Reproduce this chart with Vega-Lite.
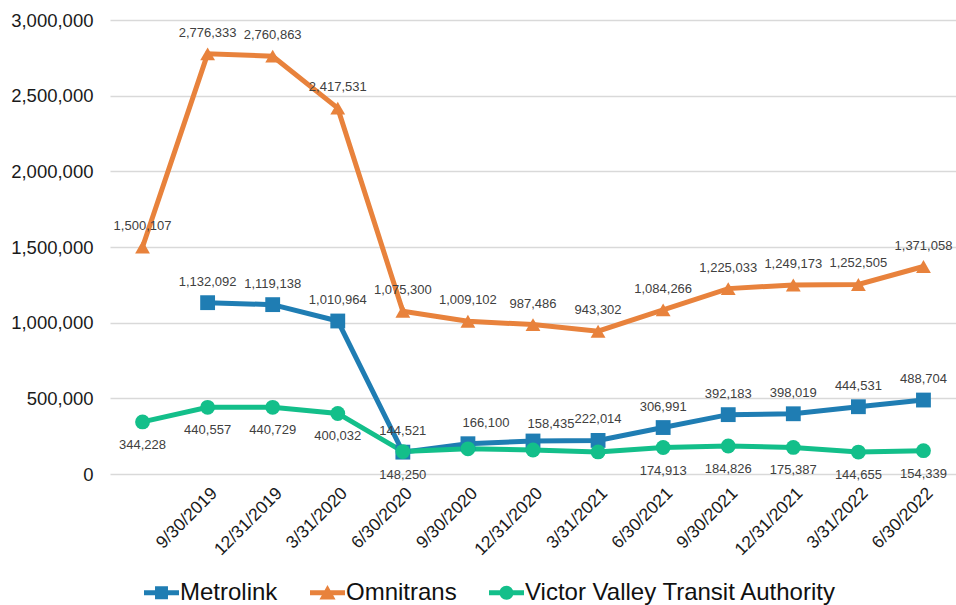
{
  "$schema": "https://vega.github.io/schema/vega-lite/v6.json",
  "width": 846,
  "height": 454,
  "autosize": {"type": "none"},
  "padding": {"left": 110, "top": 20, "right": 0, "bottom": 131},
  "background": "white",
  "config": {
    "view": {"stroke": null},
    "font": "Liberation Sans"
  },
  "data": {
    "values": [
      {"date": "6/30/2019", "series": "Omnitrans", "value": 1500107},
      {"date": "9/30/2019", "series": "Omnitrans", "value": 2776333},
      {"date": "12/31/2019", "series": "Omnitrans", "value": 2760863},
      {"date": "3/31/2020", "series": "Omnitrans", "value": 2417531},
      {"date": "6/30/2020", "series": "Omnitrans", "value": 1075300},
      {"date": "9/30/2020", "series": "Omnitrans", "value": 1009102},
      {"date": "12/31/2020", "series": "Omnitrans", "value": 987486},
      {"date": "3/31/2021", "series": "Omnitrans", "value": 943302},
      {"date": "6/30/2021", "series": "Omnitrans", "value": 1084266},
      {"date": "9/30/2021", "series": "Omnitrans", "value": 1225033},
      {"date": "12/31/2021", "series": "Omnitrans", "value": 1249173},
      {"date": "3/31/2022", "series": "Omnitrans", "value": 1252505},
      {"date": "6/30/2022", "series": "Omnitrans", "value": 1371058},
      {"date": "9/30/2019", "series": "Metrolink", "value": 1132092},
      {"date": "12/31/2019", "series": "Metrolink", "value": 1119138},
      {"date": "3/31/2020", "series": "Metrolink", "value": 1010964},
      {"date": "6/30/2020", "series": "Metrolink", "value": 144521},
      {"date": "9/30/2020", "series": "Metrolink", "value": 200000},
      {"date": "12/31/2020", "series": "Metrolink", "value": 218000},
      {"date": "3/31/2021", "series": "Metrolink", "value": 222014},
      {"date": "6/30/2021", "series": "Metrolink", "value": 306991},
      {"date": "9/30/2021", "series": "Metrolink", "value": 392183},
      {"date": "12/31/2021", "series": "Metrolink", "value": 398019},
      {"date": "3/31/2022", "series": "Metrolink", "value": 444531},
      {"date": "6/30/2022", "series": "Metrolink", "value": 488704},
      {"date": "6/30/2019", "series": "Victor Valley Transit Authority", "value": 344228},
      {"date": "9/30/2019", "series": "Victor Valley Transit Authority", "value": 440557},
      {"date": "12/31/2019", "series": "Victor Valley Transit Authority", "value": 440729},
      {"date": "3/31/2020", "series": "Victor Valley Transit Authority", "value": 400032},
      {"date": "6/30/2020", "series": "Victor Valley Transit Authority", "value": 148250},
      {"date": "9/30/2020", "series": "Victor Valley Transit Authority", "value": 166100},
      {"date": "12/31/2020", "series": "Victor Valley Transit Authority", "value": 158435},
      {"date": "3/31/2021", "series": "Victor Valley Transit Authority", "value": 146000},
      {"date": "6/30/2021", "series": "Victor Valley Transit Authority", "value": 174913},
      {"date": "9/30/2021", "series": "Victor Valley Transit Authority", "value": 184826},
      {"date": "12/31/2021", "series": "Victor Valley Transit Authority", "value": 175387},
      {"date": "3/31/2022", "series": "Victor Valley Transit Authority", "value": 144655},
      {"date": "6/30/2022", "series": "Victor Valley Transit Authority", "value": 154339}
    ]
  },
  "encoding": {
    "x": {
      "field": "date",
      "type": "nominal",
      "sort": ["6/30/2019", "9/30/2019", "12/31/2019", "3/31/2020", "6/30/2020", "9/30/2020", "12/31/2020", "3/31/2021", "6/30/2021", "9/30/2021", "12/31/2021", "3/31/2022", "6/30/2022"],
      "scale": {"type": "point", "padding": 0.5},
      "axis": {
        "title": null,
        "labelAngle": -45,
        "labelFontSize": 17.5,
        "labelColor": "#1a1a1a",
        "labelPadding": 10,
        "ticks": false,
        "domain": false,
        "labelExpr": "datum.label == '6/30/2019' ? '' : datum.label"
      }
    },
    "y": {
      "field": "value",
      "type": "quantitative",
      "scale": {"domain": [0, 3000000], "nice": false},
      "axis": {
        "title": null,
        "values": [0, 500000, 1000000, 1500000, 2000000, 2500000, 3000000],
        "format": ",d",
        "labelFontSize": 18.5,
        "labelColor": "#1a1a1a",
        "labelPadding": 17,
        "ticks": false,
        "domain": false,
        "gridColor": "#d9d9d9",
        "gridWidth": 1.5
      }
    }
  },
  "layer": [
    {
      "mark": {"type": "line", "strokeWidth": 5},
      "encoding": {
        "color": {
          "field": "series",
          "type": "nominal",
          "scale": {
            "domain": ["Metrolink", "Omnitrans", "Victor Valley Transit Authority"],
            "range": ["#1f7db3", "#e8823c", "#13bf8a"]
          },
          "legend": {
            "title": null,
            "orient": "none",
            "legendX": 34,
            "legendY": 555,
            "direction": "horizontal",
            "labelFontSize": 24,
            "labelColor": "#111111",
            "labelLimit": 600,
            "symbolSize": 1225,
            "symbolStrokeWidth": 5,
            "labelOffset": 1,
            "columnPadding": 32,
            "encode": {
              "symbols": {
                "update": {
                  "shape": {"signal": "datum.value == 'Metrolink' ? 'M-1,-0.143H1V0.143H-1Z M-0.37,-0.37H0.37V0.37H-0.37Z' : datum.value == 'Omnitrans' ? 'M-1,-0.143H1V0.143H-1Z M0,-0.44L0.46,0.38H-0.46Z' : 'M-1,-0.143H1V0.143H-1Z M-0.4,0A0.4,0.4 0 1,1 0.4,0A0.4,0.4 0 1,1 -0.4,0Z'"},
                  "fill": {"scale": "color", "field": "value"},
                  "strokeWidth": {"value": 0},
                  "opacity": {"value": 1}
                }
              }
            }
          }
        }
      }
    },
    {
      "transform": [{"filter": "datum.series == 'Metrolink'"}],
      "mark": {"type": "point", "filled": true, "opacity": 1, "size": 220, "shape": "square"},
      "encoding": {
        "color": {"field": "series", "type": "nominal", "legend": null}
      }
    },
    {
      "transform": [{"filter": "datum.series == 'Omnitrans'"}],
      "mark": {"type": "point", "filled": true, "opacity": 1, "size": 220, "shape": "triangle-up"},
      "encoding": {
        "color": {"field": "series", "type": "nominal", "legend": null}
      }
    },
    {
      "transform": [{"filter": "datum.series == 'Victor Valley Transit Authority'"}],
      "mark": {"type": "point", "filled": true, "opacity": 1, "size": 220, "shape": "circle"},
      "encoding": {
        "color": {"field": "series", "type": "nominal", "legend": null}
      }
    },
    {
      "transform": [
        {"filter": "datum.series != 'Victor Valley Transit Authority' && !(datum.series == 'Metrolink' && (datum.date == '9/30/2020' || datum.date == '12/31/2020'))"}
      ],
      "mark": {"type": "text", "dy": -21, "fontSize": 13, "color": "#404040"},
      "encoding": {
        "text": {"field": "value", "type": "quantitative", "format": ",d"}
      }
    },
    {
      "transform": [
        {"filter": "datum.series == 'Victor Valley Transit Authority' && (datum.date == '9/30/2020' || datum.date == '12/31/2020')"}
      ],
      "mark": {"type": "text", "dy": -26, "dx": 18, "fontSize": 13, "color": "#404040"},
      "encoding": {
        "text": {"field": "value", "type": "quantitative", "format": ",d"}
      }
    },
    {
      "transform": [
        {"filter": "datum.series == 'Victor Valley Transit Authority' && datum.date != '9/30/2020' && datum.date != '12/31/2020' && datum.date != '3/31/2021'"}
      ],
      "mark": {"type": "text", "dy": 23, "fontSize": 13, "color": "#404040"},
      "encoding": {
        "text": {"field": "value", "type": "quantitative", "format": ",d"}
      }
    }
  ]
}
